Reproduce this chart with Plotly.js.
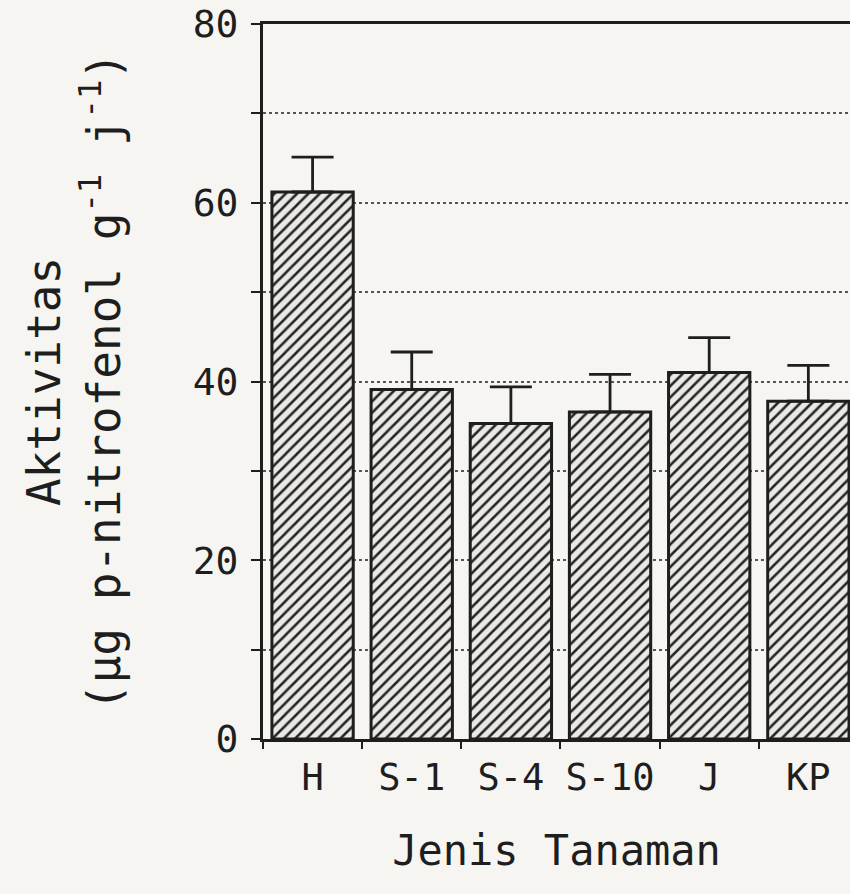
<!DOCTYPE html>
<html>
<head>
<meta charset="utf-8">
<script src="https://cdn.plot.ly/plotly-3.0.1.min.js"></script>
<style>
  html, body { margin: 0; padding: 0; background: #f6f5f2; }
  #chart { width: 850px; height: 894px; }
</style>
</head>
<body>
<div id="chart"></div>
<script>
const categories = ["H", "S-1", "S-4", "S-10", "J", "KP"];
const activity = [61.2, 39.1, 35.3, 36.6, 41.0, 37.8];
const errorUp = [3.9, 4.2, 4.1, 4.2, 3.9, 4.0];
const yTickVals = [0, 20, 40, 60, 80];
const yTickText = ["0", "20", "40", "60", "80"];

const FONT = "DejaVu Sans Mono, Liberation Mono, monospace";
const INK = "#1e1e1e";

const trace = {
  type: "bar",
  x: categories,
  y: activity,
  marker: {
    color: "#e9e8e5",
    line: { color: INK, width: 3 },
    pattern: { shape: "/", size: 8, solidity: 0.32, fgcolor: "#262626", bgcolor: "#eae9e6" }
  },
  error_y: {
    type: "data",
    symmetric: false,
    array: errorUp,
    arrayminus: errorUp.map(() => 0),
    color: INK,
    thickness: 2.8,
    width: 21
  },
  hoverinfo: "x+y"
};

const layout = {
  width: 850,
  height: 894,
  paper_bgcolor: "#f6f5f2",
  plot_bgcolor: "rgba(0,0,0,0)",
  margin: { l: 263, r: 0, t: 24, b: 155, pad: 0 },
  bargap: 0.18,
  showlegend: false,
  font: { family: FONT, color: INK, size: 38 },
  xaxis: {
    type: "category",
    range: [-0.5, 5.42],
    showline: true,
    linecolor: INK,
    linewidth: 2.8,
    mirror: true,
    ticks: "outside",
    tickson: "boundaries",
    ticklen: 7,
    tickwidth: 2,
    tickcolor: INK,
    tickangle: 0,
    ticklabelstandoff: 4,
    showgrid: false,
    zeroline: false,
    tickfont: { family: FONT, size: 37, color: INK },
    title: {
      text: "Jenis Tanaman",
      font: { family: FONT, size: 42, color: INK },
      standoff: 38
    }
  },
  yaxis: {
    range: [0, 80],
    showline: true,
    linecolor: INK,
    linewidth: 2.8,
    ticks: "outside",
    ticklen: 9,
    tickwidth: 2,
    tickcolor: INK,
    tickvals: yTickVals,
    ticktext: yTickText,
    ticklabelstandoff: 5,
    tickfont: { family: FONT, size: 38, color: INK },
    showgrid: true,
    gridcolor: "#555",
    gridwidth: 1.5,
    griddash: "dot",
    zeroline: false,
    minor: {
      dtick: 10,
      ticks: "outside",
      ticklen: 9,
      tickwidth: 2,
      tickcolor: INK,
      showgrid: true,
      gridcolor: "#555",
      gridwidth: 1.5,
      griddash: "dot"
    },
    title: {
      text: "Aktivitas<br>(µg p-nitrofenol g<sup>-1</sup> j<sup>-1</sup>)",
      font: { family: FONT, size: 46, color: INK },
      standoff: 58
    }
  }
};

Plotly.newPlot("chart", [trace], layout, { displayModeBar: false });
</script>
</body>
</html>
